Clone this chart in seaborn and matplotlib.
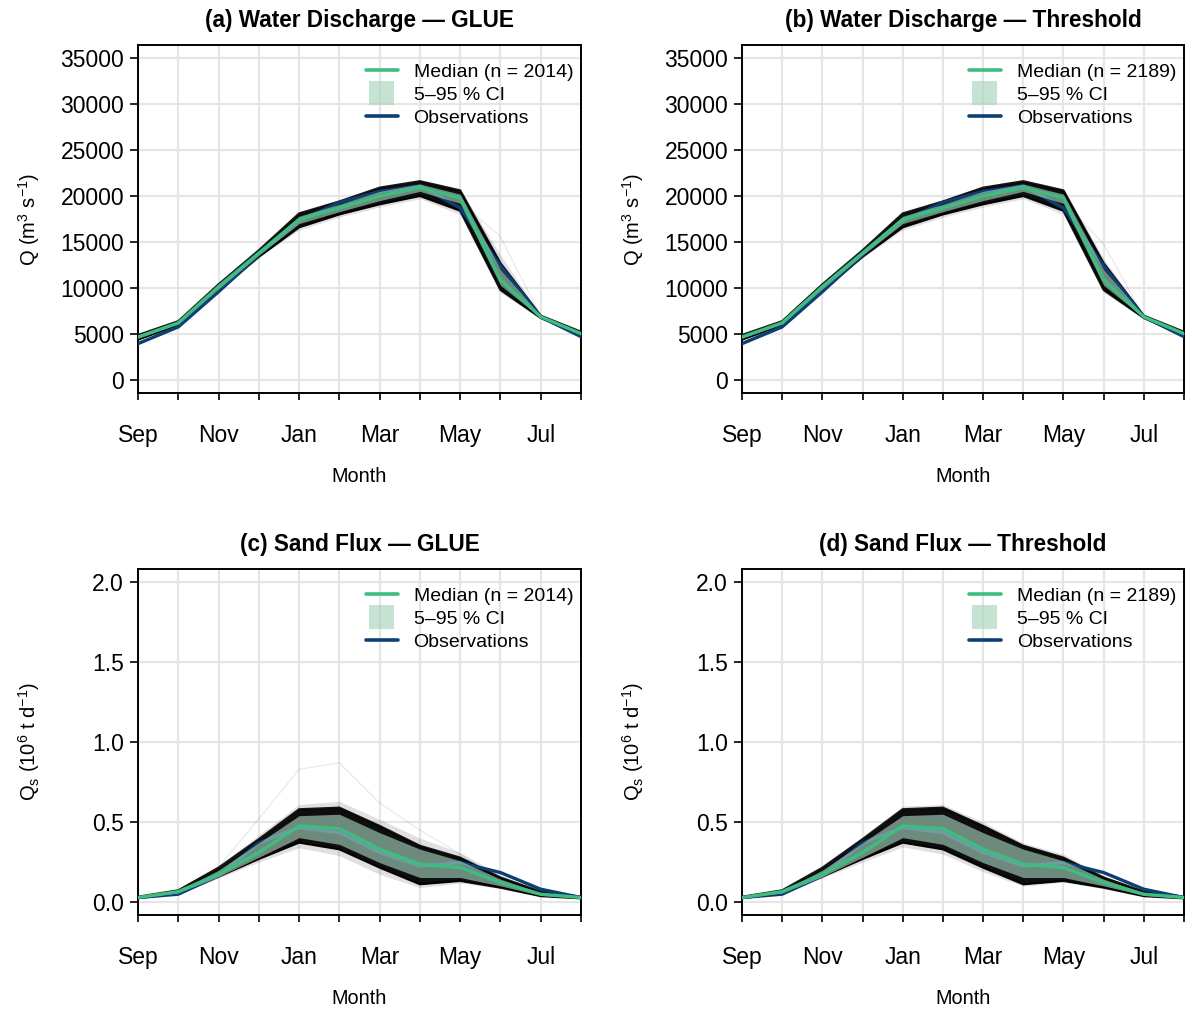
import numpy as np
import pandas as pd
import matplotlib
matplotlib.use("Agg")
import matplotlib.pyplot as plt
import seaborn as sns
from matplotlib.lines import Line2D
from matplotlib.patches import Rectangle, Patch
from matplotlib.legend_handler import HandlerPatch

# ---------------- data ----------------
months = ["Sep", "Oct", "Nov", "Dec", "Jan", "Feb", "Mar", "Apr", "May", "Jun", "Jul", "Aug"]

# Water discharge (m3/s) -- GLUE (a)
q_obs      = [3960, 5780, 9600, 13600, 17300, 19300, 20500, 21100, 18700, 12400, 6870, 4720]
q_med_a    = [4680, 6210, 10150, 13800, 17450, 18700, 20000, 20900, 19800, 10900, 6870, 5050]
q_ci_lo_a  = [4550, 6100, 9900, 13600, 17000, 18300, 19500, 20500, 19200, 10300, 6800, 4950]
q_ci_hi_a  = [4800, 6300, 10300, 14000, 17800, 19100, 20500, 21300, 20200, 12000, 6950, 5150]
q_env_lo_a = [4400, 6000, 9700, 13400, 16600, 18000, 19100, 20000, 18400, 9800, 6750, 4850]
q_env_hi_a = [4900, 6400, 10400, 14100, 18100, 19400, 20900, 21600, 20600, 12700, 7000, 5250]
q_ext_lo_a = [4300, 5950, 9600, 13300, 16300, 17700, 18800, 19700, 18000, 9500, 6700, 4800]
q_ext_hi_a = [5000, 6450, 10500, 14200, 18300, 19600, 21100, 21800, 20800, 13600, 7050, 5300]
q_out_a    = [4700, 6200, 10100, 13900, 17600, 18800, 20100, 20800, 19300, 15600, 6900, 5050]

# Water discharge -- Threshold (b)
q_med_b    = [4680, 6210, 10150, 13800, 17450, 18700, 20000, 20900, 19800, 10900, 6870, 5050]
q_ci_lo_b  = [4550, 6100, 9900, 13600, 17000, 18300, 19500, 20500, 19200, 10300, 6800, 4950]
q_ci_hi_b  = [4800, 6300, 10300, 14000, 17800, 19100, 20500, 21300, 20200, 12000, 6950, 5150]
q_env_lo_b = [4400, 6000, 9700, 13400, 16600, 18000, 19100, 20000, 18400, 9800, 6750, 4850]
q_env_hi_b = [4900, 6400, 10400, 14100, 18100, 19400, 20900, 21600, 20600, 12700, 7000, 5250]
q_ext_lo_b = [4300, 5950, 9600, 13300, 16300, 17700, 18800, 19700, 18000, 9500, 6700, 4800]
q_ext_hi_b = [5000, 6450, 10500, 14200, 18300, 19600, 21100, 21800, 20800, 13200, 7050, 5300]
q_out_b    = [4700, 6200, 10100, 13900, 17600, 18800, 20100, 20800, 19300, 14800, 6900, 5050]

# Sand flux (10^6 t/d) -- GLUE (c)
s_obs      = [0.029, 0.050, 0.165, 0.370, 0.466, 0.434, 0.310, 0.226, 0.247, 0.185, 0.081, 0.029]
s_med_c    = [0.029, 0.066, 0.174, 0.310, 0.476, 0.459, 0.331, 0.237, 0.216, 0.123, 0.050, 0.029]
s_ci_lo_c  = [0.027, 0.058, 0.160, 0.280, 0.403, 0.361, 0.247, 0.154, 0.154, 0.102, 0.042, 0.026]
s_ci_hi_c  = [0.032, 0.070, 0.200, 0.370, 0.540, 0.549, 0.434, 0.331, 0.258, 0.144, 0.058, 0.032]
s_env_lo_c = [0.025, 0.055, 0.160, 0.270, 0.372, 0.330, 0.216, 0.112, 0.133, 0.091, 0.038, 0.024]
s_env_hi_c = [0.034, 0.074, 0.215, 0.393, 0.580, 0.590, 0.476, 0.352, 0.278, 0.154, 0.066, 0.034]
s_ext_lo_c = [0.022, 0.050, 0.150, 0.250, 0.340, 0.290, 0.174, 0.091, 0.120, 0.085, 0.034, 0.022]
s_ext_hi_c = [0.036, 0.078, 0.230, 0.420, 0.610, 0.630, 0.517, 0.400, 0.310, 0.170, 0.070, 0.036]
s_out_c    = [0.030, 0.070, 0.220, 0.520, 0.830, 0.870, 0.620, 0.450, 0.300, 0.140, 0.060, 0.030]

# Sand flux -- Threshold (d)
s_med_d    = [0.029, 0.066, 0.174, 0.310, 0.476, 0.459, 0.331, 0.237, 0.216, 0.123, 0.050, 0.029]
s_ci_lo_d  = [0.027, 0.058, 0.160, 0.280, 0.403, 0.361, 0.247, 0.154, 0.154, 0.102, 0.042, 0.026]
s_ci_hi_d  = [0.032, 0.070, 0.200, 0.370, 0.540, 0.549, 0.434, 0.331, 0.258, 0.144, 0.058, 0.032]
s_env_lo_d = [0.025, 0.055, 0.160, 0.270, 0.372, 0.330, 0.216, 0.112, 0.133, 0.091, 0.038, 0.024]
s_env_hi_d = [0.034, 0.074, 0.215, 0.393, 0.580, 0.590, 0.476, 0.352, 0.278, 0.154, 0.066, 0.034]
s_ext_lo_d = [0.022, 0.050, 0.150, 0.250, 0.345, 0.300, 0.190, 0.100, 0.125, 0.085, 0.034, 0.022]
s_ext_hi_d = [0.036, 0.078, 0.225, 0.410, 0.600, 0.610, 0.500, 0.370, 0.300, 0.165, 0.070, 0.036]
s_out_d    = None

n_glue = 2014
n_thr = 2189

titles = ["(a) Water Discharge \u2014 GLUE", "(b) Water Discharge \u2014 Threshold",
          "(c) Sand Flux \u2014 GLUE", "(d) Sand Flux \u2014 Threshold"]

# ---------------- style ----------------
sns.set_theme(style="white")
plt.rcParams["font.family"] = ["Liberation Sans", "DejaVu Sans"]
plt.rcParams["mathtext.fontset"] = "custom"
plt.rcParams["mathtext.rm"] = "Liberation Sans"
plt.rcParams["mathtext.it"] = "Liberation Sans:italic"
plt.rcParams["mathtext.bf"] = "Liberation Sans:bold"
for k in ["text.color", "axes.labelcolor", "xtick.color", "ytick.color", "axes.titlecolor"]:
    plt.rcParams[k] = "black"

MED_C = "#3dbd80"
OBS_C = "#0d3f73"
CI_C = (166 / 255, 210 / 255, 187 / 255)
CI_A = 0.64
GRID_C = "#e6e6e6"

fig = plt.figure(figsize=(11.85, 10.10), dpi=100)
W, H = 1185, 1010
pos = {
    0: (138, 45, 581, 393),
    1: (742, 45, 1184, 393),
    2: (138, 569, 581, 915),
    3: (742, 569, 1184, 915),
}

x = np.arange(len(months))


class SquareHandler(HandlerPatch):
    def create_artists(self, legend, orig_handle, xdescent, ydescent, width, height, fontsize, trans):
        w = 0.78 * width
        h = 1.75 * height
        r = Rectangle((-xdescent + (width - w) / 2, -ydescent + (height - h) / 2), w, h,
                      facecolor=orig_handle.get_facecolor(), edgecolor="none", transform=trans)
        return [r]


panels = [
    dict(obs=q_obs, med=q_med_a, clo=q_ci_lo_a, chi=q_ci_hi_a, elo=q_env_lo_a, ehi=q_env_hi_a,
         xlo=q_ext_lo_a, xhi=q_ext_hi_a, out=q_out_a, n=n_glue, kind="q"),
    dict(obs=q_obs, med=q_med_b, clo=q_ci_lo_b, chi=q_ci_hi_b, elo=q_env_lo_b, ehi=q_env_hi_b,
         xlo=q_ext_lo_b, xhi=q_ext_hi_b, out=q_out_b, n=n_thr, kind="q"),
    dict(obs=s_obs, med=s_med_c, clo=s_ci_lo_c, chi=s_ci_hi_c, elo=s_env_lo_c, ehi=s_env_hi_c,
         xlo=s_ext_lo_c, xhi=s_ext_hi_c, out=s_out_c, n=n_glue, kind="s"),
    dict(obs=s_obs, med=s_med_d, clo=s_ci_lo_d, chi=s_ci_hi_d, elo=s_env_lo_d, ehi=s_env_hi_d,
         xlo=s_ext_lo_d, xhi=s_ext_hi_d, out=s_out_d, n=n_thr, kind="s"),
]

for i, p in enumerate(panels):
    l, t, r, b = pos[i]
    ax = fig.add_axes([l / W, 1 - b / H, (r - l) / W, (b - t) / H])
    ah = b - t

    # ensemble (halo + dense core)
    ax.fill_between(x, p["xlo"], p["xhi"], color="black", alpha=0.12, lw=0, zorder=2)
    ax.fill_between(x, p["elo"], p["ehi"], color="black", alpha=0.35, lw=0, zorder=2)
    ax.fill_between(x, p["elo"], p["ehi"], color="black", alpha=0.9, lw=0, zorder=2)
    ax.plot(x, p["elo"], color="black", lw=1.6, alpha=0.9, zorder=2)
    ax.plot(x, p["ehi"], color="black", lw=1.6, alpha=0.9, zorder=2)
    if p["out"] is not None:
        ax.plot(x, p["out"], color="black", lw=1.0, alpha=0.08, zorder=2)

    # observations (under the CI band)
    sns.lineplot(x=x, y=p["obs"], ax=ax, color=OBS_C, lw=2.4, zorder=3, legend=False)
    # CI
    ax.fill_between(x, p["clo"], p["chi"], color=CI_C, alpha=CI_A, lw=0, zorder=4)
    # median
    sns.lineplot(x=x, y=p["med"], ax=ax, color=MED_C, lw=2.4, zorder=5, legend=False)

    ax.set_xlim(0, len(months) - 1)
    ax.set_xticks(x)
    ax.set_xticklabels([m if k % 2 == 0 else "" for k, m in enumerate(months)])
    if p["kind"] == "q":
        ax.set_ylim(-1400, 36400)
        ax.set_yticks(np.arange(0, 35001, 5000))
        ax.set_ylabel(r"Q (m$^{3}$ s$^{-1}$)", fontsize=14.5, labelpad=13)
    else:
        ax.set_ylim(-0.08, 2.08)
        ax.set_yticks([0.0, 0.5, 1.0, 1.5, 2.0])
        ax.set_yticklabels(["0.0", "0.5", "1.0", "1.5", "2.0"])
        ax.set_ylabel(r"Q$_\mathrm{s}$ (10$^{6}$ t d$^{-1}$)", fontsize=14.5, labelpad=36)

    ax.grid(True, color=GRID_C, lw=1.6, zorder=0)
    ax.set_axisbelow(True)
    for s in ax.spines.values():
        s.set_color("black")
        s.set_linewidth(1.4)
        s.set_visible(True)
    ax.tick_params(axis="y", direction="out", length=6, width=1.2, labelsize=16.5, pad=4, left=True)
    ax.tick_params(axis="x", direction="out", length=5, width=1.2, labelsize=16.5, pad=17, bottom=True)
    ax.set_xlabel("Month", fontsize=14.3, labelpad=15)
    ax.set_title(titles[i], fontsize=16.3, fontweight="bold", pad=13)

    handles = [
        Line2D([0], [0], color=MED_C, lw=2.6),
        Patch(facecolor=(*CI_C, CI_A), edgecolor="none"),
        Line2D([0], [0], color=OBS_C, lw=2.6),
    ]
    labels = [f"Median (n = {p['n']})", "5\u201395 % CI", "Observations"]
    ax.legend(handles, labels, loc="upper right", bbox_to_anchor=(1.0, 1.0 - 10.5 / ah),
              frameon=False, fontsize=14,
              handlelength=1.65, handletextpad=0.82, labelspacing=0.28,
              borderpad=0.4, borderaxespad=0.0, handler_map={Patch: SquareHandler()})

fig.savefig("out.png", dpi=100)
